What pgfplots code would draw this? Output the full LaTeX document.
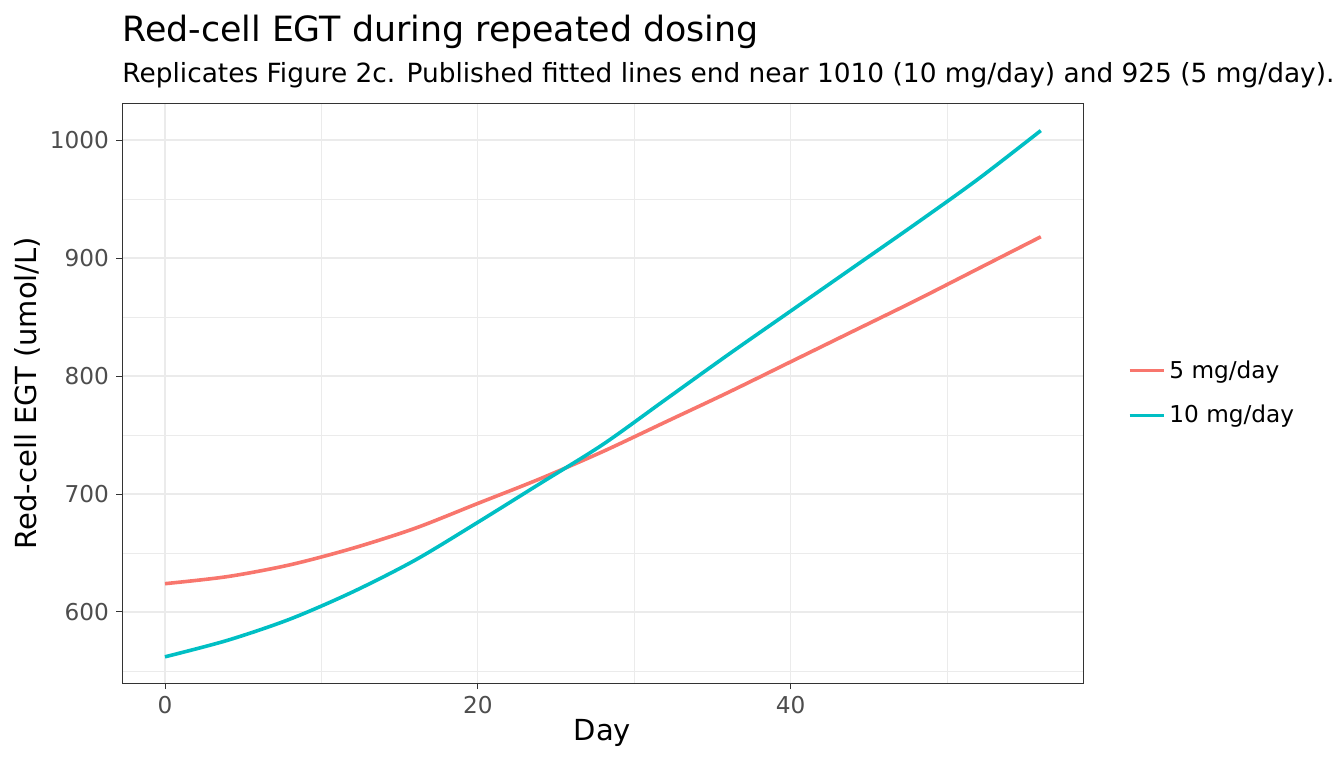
\documentclass[border=0pt]{standalone}
\usepackage{fontspec}
\setmainfont{DejaVu Sans}
\usepackage{pgfplots}
\pgfplotsset{compat=1.18}
\definecolor{cred}{HTML}{F8766D}
\definecolor{cteal}{HTML}{00BFC4}
\definecolor{gridc}{HTML}{EBEBEB}
\definecolor{frame}{HTML}{333333}
\definecolor{tickc}{HTML}{4D4D4D}
\begin{document}
\begin{tikzpicture}
\clip (0,0) rectangle (672pt,384pt);
\useasboundingbox (0,0) rectangle (672pt,384pt);
\node[anchor=base west,inner sep=0pt,font=\fontsize{17.4}{20}\selectfont] at (61pt,363pt) {Red-cell EGT during repeated dosing};
\node[anchor=base west,inner sep=0pt,font=\fontsize{13.2}{15}\selectfont] at (61pt,343pt) {Replicates Figure 2c. Published fitted lines end near 1010 (10 mg/day) and 925 (5 mg/day).};
\begin{axis}[
  at={(61pt,42.5pt)}, anchor=south west,
  scale only axis, width=480.5pt, height=290pt,
  xmin=-2.75, xmax=58.7, ymin=539.8, ymax=1031.4,
  xtick={0,20,40}, ytick={600,700,800,900,1000},
  minor xtick={10,30,50}, minor ytick={550,650,750,850,950},
  grid=both,
  major grid style={gridc, line width=0.7pt},
  minor grid style={gridc, line width=0.35pt},
  axis line style={frame, line width=0.5pt},
  tick style={frame, line width=0.5pt},
  major tick length=3pt, minor tick length=0pt,
  tick align=outside, xtick pos=bottom, ytick pos=left,
  /pgf/number format/assume math mode=true,
  /pgf/number format/1000 sep={},
  tick label style={font=\fontsize{11.6}{13}\selectfont, text=tickc},
  xlabel={Day}, ylabel={Red-cell EGT (umol/L)},
  label style={font=\fontsize{14.5}{16}\selectfont},
  xlabel style={yshift=4pt},
  ylabel style={yshift=-2pt},
  legend style={at={(1.04,0.5)}, anchor=west, draw=none, fill=none,
    font=\fontsize{11.6}{13}\selectfont, row sep=8pt},
  legend cell align=left,
  legend image code/.code={\draw[#1, line width=1.8pt] (0pt,0pt) -- (17pt,0pt);},
]
\addplot[cred, line width=1.8pt, smooth] coordinates {
(0,624) (4,630) (8,640) (12,654) (16,671) (20,692) (24,713) (28,736) (32,761) (36,786) (40,812) (44,838) (48,864) (52,891) (56,918)};
\addlegendentry{5 mg/day}
\addplot[cteal, line width=1.8pt, smooth] coordinates {
(0,562) (4,576) (8,594) (12,617) (16,644) (20,676) (24,709) (28,742) (32,780) (36,818) (40,855) (44,892) (48,929) (52,967) (56,1008)};
\addlegendentry{10 mg/day}
\end{axis}
\end{tikzpicture}
\end{document}
